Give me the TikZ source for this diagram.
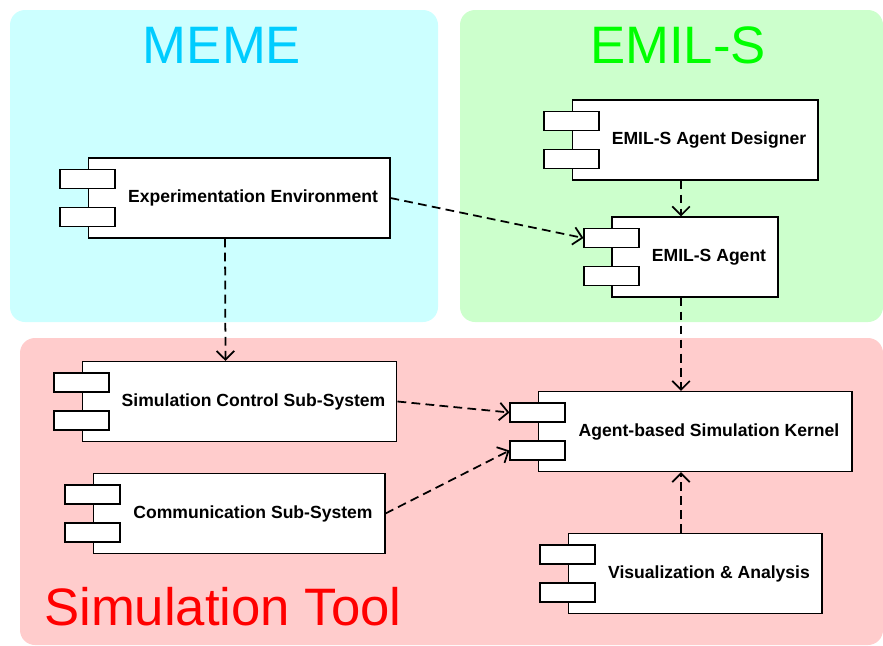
\documentclass[tikz,border=0pt]{standalone}
\usepackage{fontspec}
\setmainfont{Liberation Sans}
\usetikzlibrary{positioning,arrows.meta}

\definecolor{memebg}{HTML}{CCFFFF}
\definecolor{memefg}{HTML}{00CCFF}
\definecolor{emilbg}{HTML}{CCFFCC}
\definecolor{emilfg}{HTML}{00FF00}
\definecolor{simbg}{HTML}{FFCCCC}
\definecolor{simfg}{HTML}{FF0000}

\begin{document}
\begin{tikzpicture}[x = 0.02cm, y = -0.02cm,
                    region/.style = {rounded corners = 0.3cm},
                    comp/.style = {rectangle,
                                   draw,
                                   fill = white,
                                   line width = 0.6pt,
                                   minimum height = 1.6cm,
                                   inner sep = 0pt},
                    tab/.style = {rectangle,
                                  draw,
                                  fill = white,
                                  line width = 0.6pt,
                                  minimum width = 1.1cm,
                                  minimum height = 0.38cm,
                                  inner sep = 0pt},
                    compname/.style = {xshift = 0.28cm,
                                       font = \fontsize{10}{12}\selectfont\bfseries},
                    dep/.style = {-{Straight Barb[length = 5pt, width = 10pt]},
                                  dash pattern = on 5pt off 3pt,
                                  line width = 1pt},
                    title/.style = {font = \fontsize{30}{34}\selectfont}]

\useasboundingbox (0,0) rectangle (883,646);

% regions
\fill[memebg, region] (10,10) rectangle (438,322);
\fill[emilbg, region] (460,10) rectangle (883,322);
\fill[simbg, region] (20,338) rectangle (883,645);

\node[title, text = memefg] (memetitle) at (222,45) {MEME};
\node[title, text = emilfg] (emiltitle) at (678,45) {EMIL-S};
\node[title, text = simfg, anchor = west] (simtitle) at (38,607) {Simulation Tool};

% components
\node[comp, minimum width = 6.04cm, label = {[compname]center:Experimentation Environment}] (ee) at (239,198) {};
\node[comp, minimum width = 4.92cm, label = {[compname]center:EMIL-S Agent Designer}] (designer) at (695,140) {};
\node[comp, minimum width = 3.32cm, label = {[compname]center:EMIL-S Agent}] (agent) at (695,257) {};
\node[comp, minimum width = 6.30cm, label = {[compname]center:Simulation Control Sub-System}] (simctl) at (239.5,401.5) {};
\node[comp, minimum width = 6.28cm, label = {[compname]center:Agent-based Simulation Kernel}] (kernel) at (695,431.5) {};
\node[comp, minimum width = 5.84cm, label = {[compname]center:Communication Sub-System}] (comm) at (239,513.5) {};
\node[comp, minimum width = 5.08cm, label = {[compname]center:Visualization \& Analysis}] (vis) at (695,573.5) {};

\foreach \c in {ee, designer, agent, simctl, kernel, comm, vis} {
  \node[tab] (\c-t1) at ([yshift = 0.38cm]\c.west) {};
  \node[tab] (\c-t2) at ([yshift = -0.38cm]\c.west) {};
}

% dependencies
\draw[dep] (ee.east) -- (agent-t1.west);
\draw[dep] ([xshift = -0.28cm]ee.south) -- ([xshift = -0.28cm]simctl.north);
\draw[dep] ([xshift = -0.28cm]designer.south) -- ([xshift = -0.28cm]agent.north);
\draw[dep] ([xshift = -0.28cm]agent.south) -- ([xshift = -0.28cm]kernel.north);
\draw[dep] (simctl.east) -- (kernel-t1.west);
\draw[dep] (comm.east) -- (kernel-t2.west);
\draw[dep] ([xshift = -0.28cm]vis.north) -- ([xshift = -0.28cm]kernel.south);

\end{tikzpicture}
\end{document}
